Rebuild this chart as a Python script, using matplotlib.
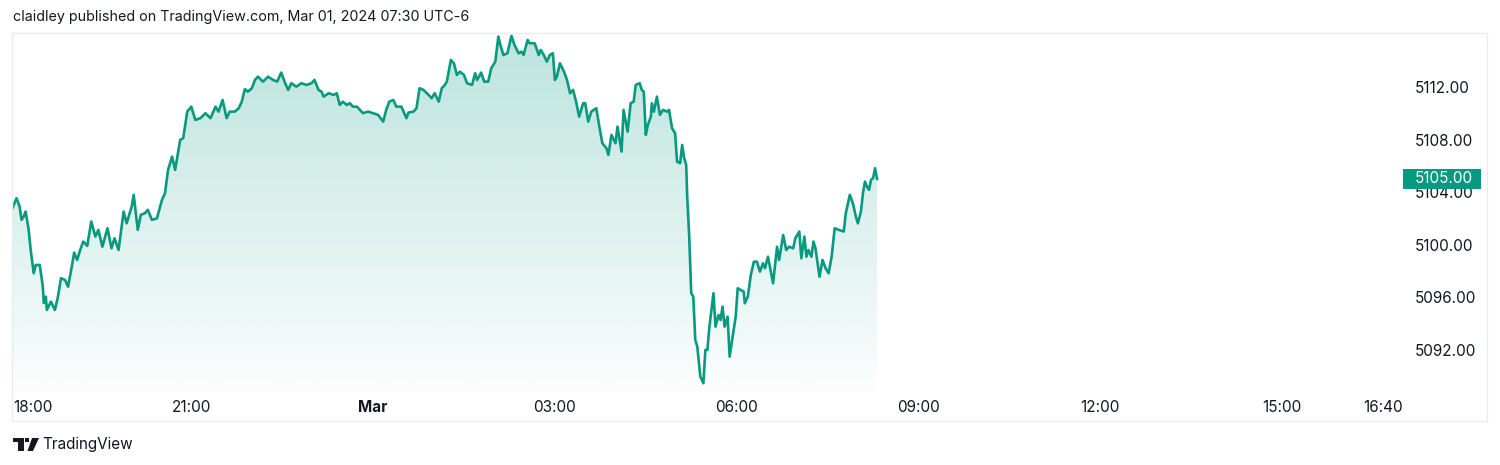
#!/usr/bin/env python3
"""
ES intraday area chart, TradingView snapshot style.
"""

import numpy as np
import matplotlib
matplotlib.use("Agg")
import matplotlib.pyplot as plt
from matplotlib.patches import Rectangle, Polygon

# minutes after 18:00 (Feb 29) and last price
minutes = [
    3, 7, 10, 12, 14, 16, 19, 21, 24, 26, 30, 33, 34, 36, 37, 41, 45, 48, 51, 55,
    58, 62, 64, 67, 70, 73, 77, 81, 85, 88, 92, 97, 101, 104, 108, 113, 116, 121, 123, 127,
    130, 134, 137, 141, 146, 151, 154, 157, 161, 164, 169, 172, 176, 180, 184, 189, 194,
    199, 204, 207, 211, 215, 218, 223, 227, 230, 233, 236, 240, 243, 246, 251, 256, 261,
    265, 269, 273, 276, 279, 284, 289, 294, 299, 302, 306, 309, 311, 316, 321, 324, 327,
    330, 334, 337, 340, 344, 347, 350, 355, 360, 365, 370, 373, 376, 380, 383, 388, 393,
    395, 400, 403,
    406, 410, 415, 418, 421, 425, 428, 431, 433, 437, 440, 443, 446, 450, 453, 458, 461,
    463, 467, 470, 474, 477, 481, 484, 486, 489, 493, 497, 500, 504, 507, 509, 513, 515,
    520, 524, 526, 529, 532, 535, 538, 540, 542, 545, 549, 552, 555, 558, 561, 564, 568,
    570, 573, 576, 581, 584, 587, 591, 593, 596, 600, 602, 606, 608, 612, 615, 618,
    620, 624, 626, 628, 630, 632, 635, 636, 638, 641, 644, 647, 651, 653, 656, 659, 661,
    664, 666, 668, 670, 671, 673, 675, 677, 679, 681, 684, 687, 689, 691, 693, 697, 699,
    702, 704, 706, 708, 711, 713, 717, 719, 721, 724, 727, 728, 731, 734, 737, 740, 743,
    746, 748, 751, 756, 760, 762, 766, 769, 772, 776, 778, 782, 784, 787, 789, 791, 794,
    796, 798, 802, 805, 808, 811, 814, 817, 821, 826, 828, 832, 835, 838, 840, 843, 845,
    847, 849, 851, 853, 855, 857, 859,
]
prices = [
    5102.78, 5103.54, 5102.90, 5101.89, 5102.14, 5102.52, 5101.13, 5099.60, 5097.83, 5098.46,
    5098.46, 5096.81, 5095.57, 5096.05, 5095.04, 5095.67, 5095.04, 5096.05, 5097.45, 5097.32,
    5096.81, 5098.46, 5099.40, 5098.84, 5099.60, 5100.24, 5099.91, 5101.76, 5100.62, 5101.13,
    5099.85, 5101.25, 5099.73, 5100.49, 5099.60, 5102.52, 5101.63, 5102.90, 5103.79, 5101.13,
    5102.27, 5102.39, 5102.65, 5101.89, 5102.01, 5103.41, 5103.92, 5105.69, 5106.70, 5105.69,
    5107.97, 5108.10, 5110.12, 5110.50, 5109.49, 5109.62, 5110.00,
    5109.62, 5110.50, 5110.12, 5111.01, 5109.62, 5110.12, 5110.12, 5110.38, 5110.88, 5111.83,
    5111.64, 5111.90, 5112.53, 5112.78, 5112.40, 5112.78, 5112.53, 5112.40, 5113.09, 5112.28,
    5111.77, 5112.28, 5112.02, 5112.28, 5112.15, 5112.28, 5112.53, 5111.77, 5111.64, 5111.26,
    5111.52, 5111.39, 5111.52, 5110.63, 5110.88, 5110.63, 5110.76, 5110.50, 5110.50, 5110.25,
    5110.00, 5110.12, 5110.00, 5109.87, 5109.36, 5110.25, 5110.88, 5111.01, 5110.50, 5110.50,
    5109.62, 5110.05, 5110.12, 5110.38,
    5111.90, 5111.77, 5111.39, 5111.14, 5111.52, 5110.88, 5111.90, 5112.15, 5112.40, 5114.05,
    5113.80, 5112.91, 5113.16, 5112.91, 5112.28, 5112.15, 5113.04, 5112.53, 5113.09, 5112.40,
    5112.40, 5113.42, 5113.92, 5115.83, 5115.19, 5114.43, 5114.56, 5115.88, 5115.19, 5114.56,
    5114.68, 5114.43, 5115.57, 5115.32, 5115.32, 5114.43, 5114.81, 5114.43, 5113.92, 5114.43,
    5114.56, 5112.53, 5112.78, 5113.80, 5113.16, 5112.53, 5111.52, 5111.77, 5110.88, 5109.74,
    5110.76, 5110.76, 5109.36, 5110.12, 5110.38, 5108.98, 5107.72, 5107.34, 5106.83, 5108.35,
    5107.72, 5108.98, 5107.08, 5110.25, 5108.60, 5110.76, 5110.88,
    5112.15, 5112.28, 5111.77, 5111.64, 5108.35, 5109.11, 5109.74, 5110.76, 5110.12, 5111.26,
    5109.87, 5110.25, 5110.12, 5110.25, 5108.86, 5108.48, 5106.32, 5106.20, 5107.59, 5106.58,
    5106.07, 5103.66, 5100.62, 5096.31, 5096.05, 5092.76, 5092.25, 5089.97, 5089.47, 5092.00,
    5092.00, 5093.77, 5096.31, 5093.77, 5094.66, 5094.28, 5095.29, 5093.77, 5094.53, 5091.49,
    5093.52, 5094.53, 5096.69, 5096.56, 5096.43, 5095.55, 5096.05, 5097.70, 5098.71, 5098.71,
    5097.95, 5098.59, 5098.21, 5099.09, 5097.07, 5099.85, 5098.84, 5100.74, 5099.60, 5099.85,
    5099.73, 5100.49, 5101.00, 5098.97, 5100.62, 5099.09, 5099.60, 5099.09, 5100.24, 5099.73,
    5097.57, 5098.84, 5098.21, 5097.83, 5099.09, 5101.25, 5101.13, 5101.00, 5102.39, 5103.79,
    5103.16, 5102.14, 5101.63, 5102.52, 5103.92, 5104.80, 5104.42, 5104.17, 5104.93, 5105.06,
    5105.82, 5105.00,
]

time_ticks = [180, 360, 540, 720, 900, 1080, 1260, 1360]
time_labels = ["21:00", "Mar", "03:00", "06:00", "09:00", "12:00", "15:00", "16:40"]
price_ticks = [5092, 5096, 5100, 5104, 5108, 5112]
last_price = 5105.00

title = "claidley published on TradingView.com, Mar 01, 2024 07:30 UTC-6"

GREEN = "#089981"
TEXT = "#131722"
FS = 11

plt.rcParams['font.family'] = ['Inter', 'DejaVu Sans']

W, H = 1500, 465
fig = plt.figure(figsize=(W / 100, H / 100), dpi=100)
fig.patch.set_facecolor("white")


def fx(px):
    return px / W


def fy(py):
    return 1 - py / H


# pane: x 12..1402, y 33..392 (pixels)
ax = fig.add_axes([fx(12), fy(392), fx(1402) - fx(12), fy(33) - fy(392)])
ax.set_facecolor("white")
xmin, xmax = 2.5, 1378.7
ymin, ymax = 5088.8, 5116.1
ax.set_xlim(xmin, xmax)
ax.set_ylim(ymin, ymax)

t = np.array(minutes, dtype=float)
p = np.array(prices)

# gradient area fill
poly = ax.fill_between(t, p, ymin, color="none", lw=0)
path = poly.get_paths()[0]
alpha = np.linspace(0.015, 0.27, 256)
rgba = np.zeros((256, 1, 4))
rgba[..., 0] = 8 / 255
rgba[..., 1] = 153 / 255
rgba[..., 2] = 129 / 255
rgba[..., 3] = alpha[:, None]
im = ax.imshow(rgba, extent=[t[0], t[-1], ymin, p.max()], origin="lower",
               aspect="auto", zorder=1, interpolation="bilinear")
im.set_clip_path(path, transform=ax.transData)

ax.plot(t, p, color=GREEN, lw=1.9, zorder=3, solid_joinstyle="round")

for s in ax.spines.values():
    s.set_visible(False)

# time axis
ax.set_xticks(time_ticks)
ax.set_xticklabels(time_labels)
ax.tick_params(axis="x", length=0, pad=6, labelsize=FS, labelcolor=TEXT)
for lbl in ax.get_xticklabels():
    if lbl.get_text() == "Mar":
        lbl.set_fontweight("bold")
fig.text(fx(13), fy(407), "18:00", ha="left", va="center", fontsize=FS, color=TEXT)

# price axis
ax.yaxis.tick_right()
ax.set_yticks(price_ticks)
ax.set_yticklabels([f"{v:.2f}" for v in price_ticks])
ax.tick_params(axis="y", length=0, pad=9, labelsize=FS, labelcolor=TEXT)

# last price label
box_h = 20 / (359 / (ymax - ymin))
ax.add_patch(Rectangle((1403 / 1390 - 12 / 1390, last_price - box_h / 2), 78 / 1390, box_h,
                       transform=ax.get_yaxis_transform(), fc=GREEN, ec="none",
                       clip_on=False, zorder=9))
ax.text((1415 - 12) / 1390, last_price, f"{last_price:.2f}", transform=ax.get_yaxis_transform(),
        ha="left", va="center", fontsize=FS, color="white", zorder=10, clip_on=False)

# outer frame
fig.patches.append(Rectangle((fx(12), fy(421)), fx(1487) - fx(12), fy(33) - fy(421),
                             transform=fig.transFigure, fill=False,
                             ec="#e3f1ee", lw=1))

fig.text(fx(13), fy(17), title, ha="left", va="center", fontsize=10.3, color=TEXT)

# TradingView logo
logo = [
    Polygon([(fx(12.5), fy(438)), (fx(24), fy(438)), (fx(24), fy(451)),
             (fx(18), fy(451)), (fx(18), fy(442)), (fx(12.5), fy(442))], closed=True),
    Polygon([(fx(32), fy(438)), (fx(39), fy(438)), (fx(33), fy(451)),
             (fx(27.5), fy(451))], closed=True),
    Rectangle((fx(25), fy(442)), fx(4), fy(438) - fy(442)),
]
for pg in logo:
    pg.set_transform(fig.transFigure)
    pg.set_facecolor(TEXT)
    pg.set_edgecolor("none")
    fig.patches.append(pg)
fig.text(fx(42), fy(444.5), "TradingView", ha="left", va="center", fontsize=11, color=TEXT)

fig.savefig("out.png", dpi=100, facecolor="white")
